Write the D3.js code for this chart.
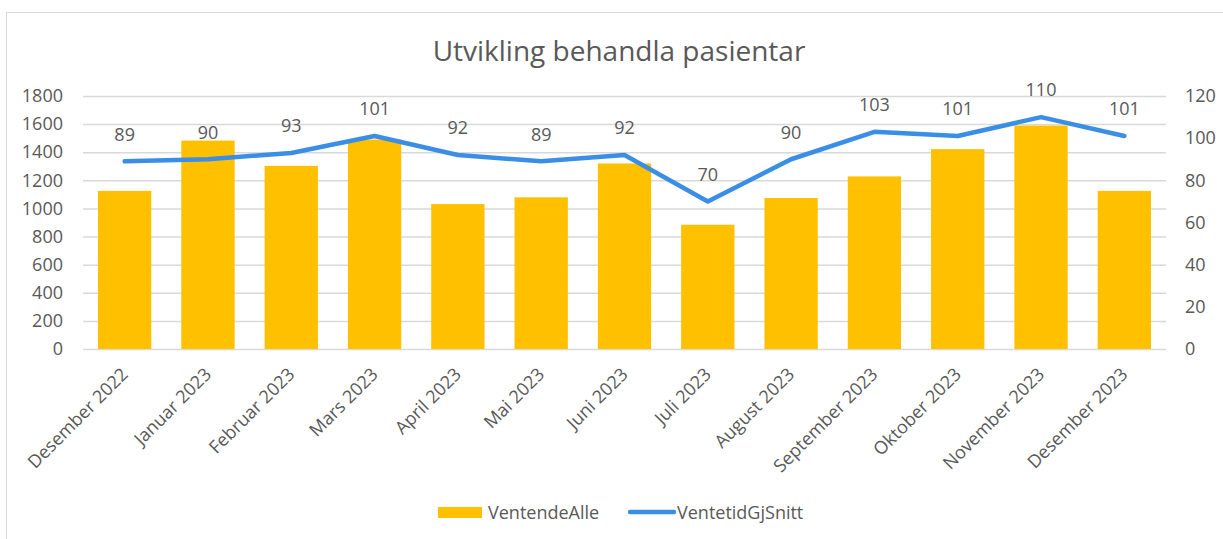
<!DOCTYPE html>
<html lang="no">
<head>
  <meta charset="utf-8">
  <title>Utvikling behandla pasientar</title>
  <script src="https://d3js.org/d3.v7.min.js"></script>
  <style>
    body { margin: 0; background: #fff; }
    #chart text { font-family: "Open Sans", sans-serif; fill: #595959; }
    #chart .domain { display: none; }
  </style>
</head>
<body>
  <div id="chart"></div>

  <script>
    "use strict"

    // data
    var maneder = ["Desember 2022", "Januar 2023", "Februar 2023", "Mars 2023", "April 2023", "Mai 2023",
                   "Juni 2023", "Juli 2023", "August 2023", "September 2023", "Oktober 2023",
                   "November 2023", "Desember 2023"];
    var ventendeAlle = [1125, 1483, 1303, 1490, 1031, 1079, 1320, 884, 1074, 1228, 1422, 1590, 1125];
    var ventetidGjSnitt = [89, 90, 93, 101, 92, 89, 92, 70, 90, 103, 101, 110, 101];
    var venstreTicks = [0, 200, 400, 600, 800, 1000, 1200, 1400, 1600, 1800];
    var hoyreTicks = [0, 20, 40, 60, 80, 100, 120];

    var bredde = 1223, hoyde = 539;
    var margin = {top: 96, right: 57, bottom: 190, left: 83};
    var w = bredde - margin.left - margin.right,
        h = hoyde - margin.top - margin.bottom;
    var fs = "18px";

    var svg = d3.select("#chart").append("svg")
        .attr("width", bredde)
        .attr("height", hoyde);

    // ramme (bare topp og venstre synlig)
    svg.append("rect")
      .attr("x", 6.5).attr("y", 12.5)
      .attr("width", 1300).attr("height", 700)
      .attr("fill", "none")
      .attr("stroke", "#d9d9d9");

    svg.append("text")
      .attr("x", 619).attr("y", 61)
      .attr("text-anchor", "middle")
      .style("font-size", "28px")
      .text("Utvikling behandla pasientar");

    var g = svg.append("g")
        .attr("transform", "translate(" + margin.left + "," + margin.top + ")");

    var x = d3.scaleBand().domain(maneder).range([0, w]).paddingInner(0.36).paddingOuter(0.18);
    var yV = d3.scaleLinear().domain([0, 1800]).range([h, 0]);
    var yH = d3.scaleLinear().domain([0, 120]).range([h, 0]);

    // rutenett
    g.append("g")
      .call(d3.axisLeft(yV).tickValues(venstreTicks).tickSize(-w).tickFormat(""))
      .selectAll("line").attr("stroke", "#d9d9d9").attr("stroke-width", 1.5);

    // venstre akse
    var va = g.append("g")
      .attr("transform", "translate(-17,0)")
      .call(d3.axisLeft(yV).tickValues(venstreTicks).tickSize(0).tickFormat(d3.format("d")));
    va.selectAll("text").style("font-size", fs);

    // høgre akse
    var ha = g.append("g")
      .attr("transform", "translate(" + (w + 19) + ",0)")
      .call(d3.axisRight(yH).tickValues(hoyreTicks).tickSize(0));
    ha.selectAll("text").style("font-size", fs).attr("x", 0);

    // søyler
    g.selectAll(".bar")
      .data(ventendeAlle)
      .enter().append("rect")
        .attr("class", "bar")
        .attr("x", (d, i) => x(maneder[i]))
        .attr("width", x.bandwidth())
        .attr("y", d => yV(d))
        .attr("height", d => h - yV(d))
        .attr("fill", "#ffc000");

    // linje
    var cx = i => x(maneder[i]) + x.bandwidth() / 2;
    var linje = d3.line()
      .x((d, i) => cx(i))
      .y(d => yH(d));

    g.append("path")
      .datum(ventetidGjSnitt)
      .attr("d", linje)
      .attr("fill", "none")
      .attr("stroke", "#3a8ee6")
      .attr("stroke-width", 4.5)
      .attr("stroke-linejoin", "round")
      .attr("stroke-linecap", "round");

    g.selectAll(".etikett")
      .data(ventetidGjSnitt)
      .enter().append("text")
        .attr("class", "etikett")
        .attr("x", (d, i) => cx(i))
        .attr("y", d => yH(d) - 27)
        .attr("dy", "0.35em")
        .attr("text-anchor", "middle")
        .style("font-size", fs)
        .text(d => d);

    // x-akse, rotert
    g.selectAll(".xlab")
      .data(maneder)
      .enter().append("text")
        .attr("class", "xlab")
        .attr("text-anchor", "end")
        .attr("dy", "0.35em")
        .style("font-size", fs)
        .attr("transform", (d, i) => "translate(" + cx(i) + "," + (h + 22) + ") rotate(-45)")
        .text(d => d);

    // tegnforklaring
    var leg = svg.append("g");
    leg.append("rect")
      .attr("x", 438).attr("y", 507)
      .attr("width", 44).attr("height", 11)
      .attr("fill", "#ffc000");
    leg.append("text")
      .attr("x", 488).attr("y", 518.5)
      .style("font-size", fs)
      .text("VentendeAlle");
    leg.append("line")
      .attr("x1", 630).attr("x2", 674)
      .attr("y1", 512).attr("y2", 512)
      .attr("stroke", "#3a8ee6")
      .attr("stroke-width", 4.5)
      .attr("stroke-linecap", "round");
    leg.append("text")
      .attr("x", 677).attr("y", 518.5)
      .style("font-size", fs)
      .text("VentetidGjSnitt");
  </script>
</body>
</html>
